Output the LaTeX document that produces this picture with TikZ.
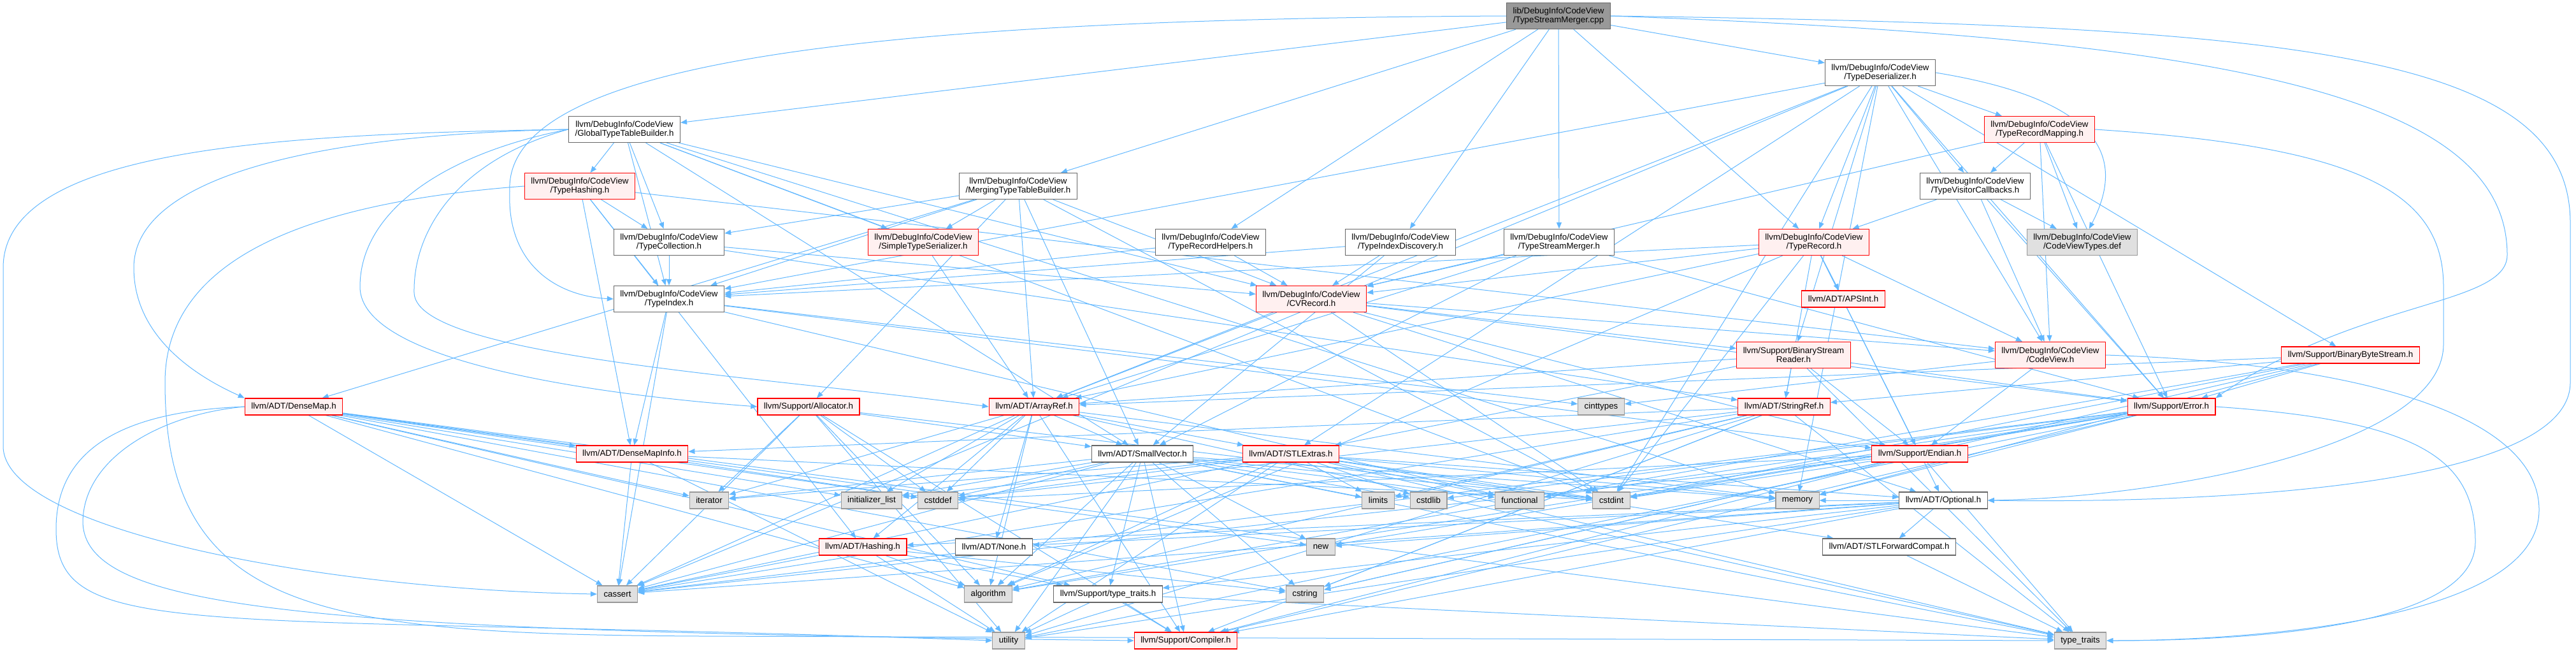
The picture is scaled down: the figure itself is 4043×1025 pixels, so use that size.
\documentclass[tikz,border=0pt]{standalone}
\usepackage{fontspec}
\setmainfont{Liberation Sans}
\usetikzlibrary{arrows.meta,backgrounds}
\definecolor{edgeblue}{HTML}{63B8FF}
\definecolor{truncfill}{HTML}{FFF0F0}
\definecolor{sysfill}{HTML}{E0E0E0}
\definecolor{rootfill}{HTML}{999999}
\begin{document}
\begin{tikzpicture}[x=0.75pt,y=-0.75pt,>={Stealth[length=7.5pt,width=6pt,inset=0pt]},
  file/.style={draw=black!60,fill=white,line width=0.9pt,align=center,inner xsep=7.5pt,inner ysep=1pt,minimum height=19.5pt,font=\fontsize{10}{10.5}\selectfont},
  tall/.style={minimum height=30.75pt},
  trunc/.style={draw=red,fill=truncfill},
  sys/.style={draw=black!40,fill=sysfill},
  dep/.style={->,edgeblue,line width=0.75pt}]
\path[use as bounding box] (0,0) rectangle (4043,1025);
\node[file,tall,fill=rootfill] (root) at (2446,25) {lib/DebugInfo/CodeView\\/TypeStreamMerger.cpp};
\node[file,tall] (tdes) at (2951,114) {llvm/DebugInfo/CodeView\\/TypeDeserializer.h};
\node[file,tall] (gttb) at (980,203) {llvm/DebugInfo/CodeView\\/GlobalTypeTableBuilder.h};
\node[file,tall,trunc] (trmap) at (3201,203) {llvm/DebugInfo/CodeView\\/TypeRecordMapping.h};
\node[file,tall,trunc] (thash) at (910,292) {llvm/DebugInfo/CodeView\\/TypeHashing.h};
\node[file,tall] (mttb) at (1598,292) {llvm/DebugInfo/CodeView\\/MergingTypeTableBuilder.h};
\node[file,tall] (tvc) at (3100,292) {llvm/DebugInfo/CodeView\\/TypeVisitorCallbacks.h};
\node[file,tall] (tcoll) at (1050,380) {llvm/DebugInfo/CodeView\\/TypeCollection.h};
\node[file,tall,trunc] (sts) at (1449,380) {llvm/DebugInfo/CodeView\\/SimpleTypeSerializer.h};
\node[file,tall] (trh) at (1900,380) {llvm/DebugInfo/CodeView\\/TypeRecordHelpers.h};
\node[file,tall] (tidisc) at (2198,380) {llvm/DebugInfo/CodeView\\/TypeIndexDiscovery.h};
\node[file,tall] (tsmh) at (2447,380) {llvm/DebugInfo/CodeView\\/TypeStreamMerger.h};
\node[file,tall,trunc] (trec) at (2847,380) {llvm/DebugInfo/CodeView\\/TypeRecord.h};
\node[file,tall,sys] (cvtdef) at (3268,380) {llvm/DebugInfo/CodeView\\/CodeViewTypes.def};
\node[file,tall] (tidx) at (1050,469) {llvm/DebugInfo/CodeView\\/TypeIndex.h};
\node[file,tall,trunc] (cvrec) at (2058,469) {llvm/DebugInfo/CodeView\\/CVRecord.h};
\node[file,trunc] (apsint) at (2893,469) {llvm/ADT/APSInt.h};
\node[file,tall,trunc] (bsr) at (2815,557) {llvm/Support/BinaryStream\\Reader.h};
\node[file,tall,trunc] (codeview) at (3218,557) {llvm/DebugInfo/CodeView\\/CodeView.h};
\node[file,trunc] (bbs) at (3689,557) {llvm/Support/BinaryByteStream.h};
\node[file,trunc] (densemap) at (461,638) {llvm/ADT/DenseMap.h};
\node[file,trunc] (alloc) at (1269,638) {llvm/Support/Allocator.h};
\node[file,trunc] (arrayref) at (1623,638) {llvm/ADT/ArrayRef.h};
\node[file,sys] (cinttypes) at (2513,638) {cinttypes};
\node[file,trunc] (stringref) at (2800,638) {llvm/ADT/StringRef.h};
\node[file,trunc] (err) at (3408,638) {llvm/Support/Error.h};
\node[file,trunc] (dmi) at (992,712) {llvm/ADT/DenseMapInfo.h};
\node[file] (smallvec) at (1793,712) {llvm/ADT/SmallVector.h};
\node[file,trunc] (stlextras) at (2026,712) {llvm/ADT/STLExtras.h};
\node[file,trunc] (endian) at (3013,712) {llvm/Support/Endian.h};
\node[file,sys] (iterator) at (1113,785) {iterator};
\node[file,sys] (initlist) at (1368,785) {initializer\_list};
\node[file,sys] (cstddef) at (1472,785) {cstddef};
\node[file,sys] (limits) at (2163,785) {limits};
\node[file,sys] (cstdlib) at (2242,785) {cstdlib};
\node[file,sys] (functional) at (2385,785) {functional};
\node[file,sys] (cstdint) at (2529,785) {cstdint};
\node[file,sys] (memory) at (2821,785) {memory};
\node[file] (opt) at (3050,785) {llvm/ADT/Optional.h};
\node[file,trunc] (hashing) at (1354,858) {llvm/ADT/Hashing.h};
\node[file] (none) at (1560,858) {llvm/ADT/None.h};
\node[file,sys] (newh) at (2073,858) {new};
\node[file] (stlfc) at (2965,858) {llvm/ADT/STLForwardCompat.h};
\node[file,sys] (cassert) at (969,932) {cassert};
\node[file,sys] (algorithm) at (1551,932) {algorithm};
\node[file] (lltt) at (1739,932) {llvm/Support/type\_traits.h};
\node[file,sys] (cstring) at (2048,932) {cstring};
\node[file,sys] (utility) at (1583,1005) {utility};
\node[file,trunc] (compiler) at (1861,1005) {llvm/Support/Compiler.h};
\node[file,sys] (stdtt) at (3265,1005) {type\_traits};
\begin{scope}[on background layer]
\foreach \t in {tsmh,gttb,mttb,tdes,tidisc,trec,trh} \draw[dep] (root) -- (\t);
\draw[dep] (root.west) .. controls (1400,30) and (790,90) .. (800,300) .. controls (795,420) and (880,465) .. (tidx.west);
\draw[dep] (root.east) .. controls (3600,40) and (4034,80) .. (4034,350) -- (4034,600) .. controls (4034,760) and (3500,790) .. (opt.east);
\draw[dep] (root.east) .. controls (3500,60) and (3935,150) .. (3935,400) .. controls (3935,480) and (3700,470) .. (err.north east);
\foreach \t in {arrayref,stlextras,codeview,tidx,trec,trmap,tvc,bbs,bsr,err,cassert,cstdint,memory} \draw[dep] (tdes) -- (\t);
\draw[dep] (tdes.east) .. controls (3320,160) and (3330,260) .. (cvtdef);
\foreach \t in {smallvec,cvrec,sts,tcoll,thash,tidx,cstdint,memory} \draw[dep] (gttb) -- (\t);
\draw[dep] (gttb.west) .. controls (450,210) and (5,230) .. (5,420) -- (5,700) .. controls (5,830) and (500,925) .. (cassert.west);
\draw[dep] (gttb.west) .. controls (450,212) and (210,290) .. (210,420) .. controls (210,540) and (330,600) .. (densemap.north west);
\draw[dep] (gttb.west) .. controls (700,240) and (565,330) .. (565,450) .. controls (565,570) and (950,620) .. (alloc.west);
\draw[dep] (gttb.west) .. controls (720,250) and (648,360) .. (650,460) .. controls (655,560) and (1200,590) .. (arrayref.west);
\foreach \t in {cvrec,tvc,err,cvtdef,codeview} \draw[dep] (trmap) -- (\t);
\draw[dep] (trmap.east) .. controls (3700,230) and (3835,300) .. (3835,450) -- (3835,540) .. controls (3835,700) and (3400,780) .. (opt.east);
\foreach \t in {dmi,hashing,codeview,tcoll,tidx} \draw[dep] (thash) -- (\t);
\draw[dep] (thash.west) .. controls (450,320) and (259,420) .. (259,600) .. controls (259,960) and (500,995) .. (1100,998) -- (stdtt.west);
\foreach \t in {arrayref,densemap,smallvec,cvrec,sts,tcoll,tidx,alloc,cstdint} \draw[dep] (mttb) -- (\t);
\foreach \t in {codeview,trec,err,cvtdef} \draw[dep] (tvc) -- (\t);
\foreach \t in {stringref,cvrec,tidx} \draw[dep] (tcoll) -- (\t);
\draw[dep] (sts) -- (arrayref);
\foreach \t in {cvrec,tidx} \draw[dep] (trh) -- (\t);
\foreach \t in {smallvec,cvrec,tidx} \draw[dep] (tidisc) -- (\t);
\foreach \t in {arrayref,smallvec,cvrec,err} \draw[dep] (tsmh) -- (\t);
\foreach \t in {apsint,arrayref,opt,stringref,cvrec,codeview,tidx,endian,algorithm,cstdint} \draw[dep] (trec) -- (\t);
\foreach \t in {dmi,endian,cassert,cinttypes,functional} \draw[dep] (tidx) -- (\t);
\foreach \t in {arrayref,opt,codeview,bsr,endian,err,cstdint} \draw[dep] (cvrec) -- (\t);
\foreach \t in {arrayref,stlextras,stringref,endian,err,stdtt} \draw[dep] (bsr) -- (\t);
\foreach \t in {cinttypes,endian} \draw[dep] (codeview) -- (\t);
\draw[dep] (codeview.east) .. controls (3700,570) and (3985,650) .. (3985,800) .. controls (3985,980) and (3500,1005) .. (stdtt.east);
\foreach \t in {arrayref,stringref,err,algorithm,cstdint,cstring,memory} \draw[dep] (bbs) -- (\t);
\foreach \t in {dmi,lltt,algorithm,cassert,cstddef,cstring,initlist,iterator,newh,stdtt} \draw[dep] (densemap) -- (\t);
\draw[dep] (densemap.west) .. controls (200,645) and (88,700) .. (88,830) .. controls (88,1010) and (300,960) .. (utility.west);
\draw[dep] (densemap.west) .. controls (250,650) and (130,720) .. (130,820) .. controls (135,960) and (500,990) .. (compiler.west);
\foreach \t in {smallvec,compiler,algorithm,cassert,cstddef,cstdint,iterator,utility} \draw[dep] (alloc) -- (\t);
\foreach \t in {hashing,none,stlextras,smallvec,compiler,algorithm,cassert,cstddef,initlist,iterator,memory,stdtt} \draw[dep] (arrayref) -- (\t);
\foreach \t in {dmi,compiler,algorithm,cassert,cstddef,cstring,limits,stdtt,utility} \draw[dep] (stringref) -- (\t);
\foreach \t in {compiler,algorithm,cassert,cstdint,cstdlib,functional,memory,newh,utility} \draw[dep] (err) -- (\t);
\draw[dep] (err.east) .. controls (3800,660) and (3885,720) .. (3885,850) .. controls (3885,990) and (3500,1005) .. (stdtt.east);
\foreach \t in {cassert,cstddef,cstdint,utility} \draw[dep] (dmi) -- (\t);
\foreach \t in {compiler,lltt,algorithm,cassert,cstddef,cstdint,cstdlib,cstring,functional,initlist,iterator,limits,memory,newh,stdtt,utility} \draw[dep] (smallvec) -- (\t);
\foreach \t in {opt,stlfc,algorithm,cassert,cstddef,cstdint,cstdlib,functional,initlist,iterator,limits,memory,stdtt,utility} \draw[dep] (stlextras) -- (\t);
\foreach \t in {compiler,cassert,cstddef,cstdint,cstring,stdtt} \draw[dep] (endian) -- (\t);
\foreach \t in {hashing,none,stlfc,compiler,lltt,cassert,memory,newh,utility} \draw[dep] (opt) -- (\t);
\foreach \t in {lltt,algorithm,cassert,cstring,utility} \draw[dep] (hashing) -- (\t);
\draw[dep] (stlfc) -- (stdtt);
\foreach \t in {compiler,stdtt,utility} \draw[dep] (lltt) -- (\t);
\end{scope}
\end{tikzpicture}
\end{document}
